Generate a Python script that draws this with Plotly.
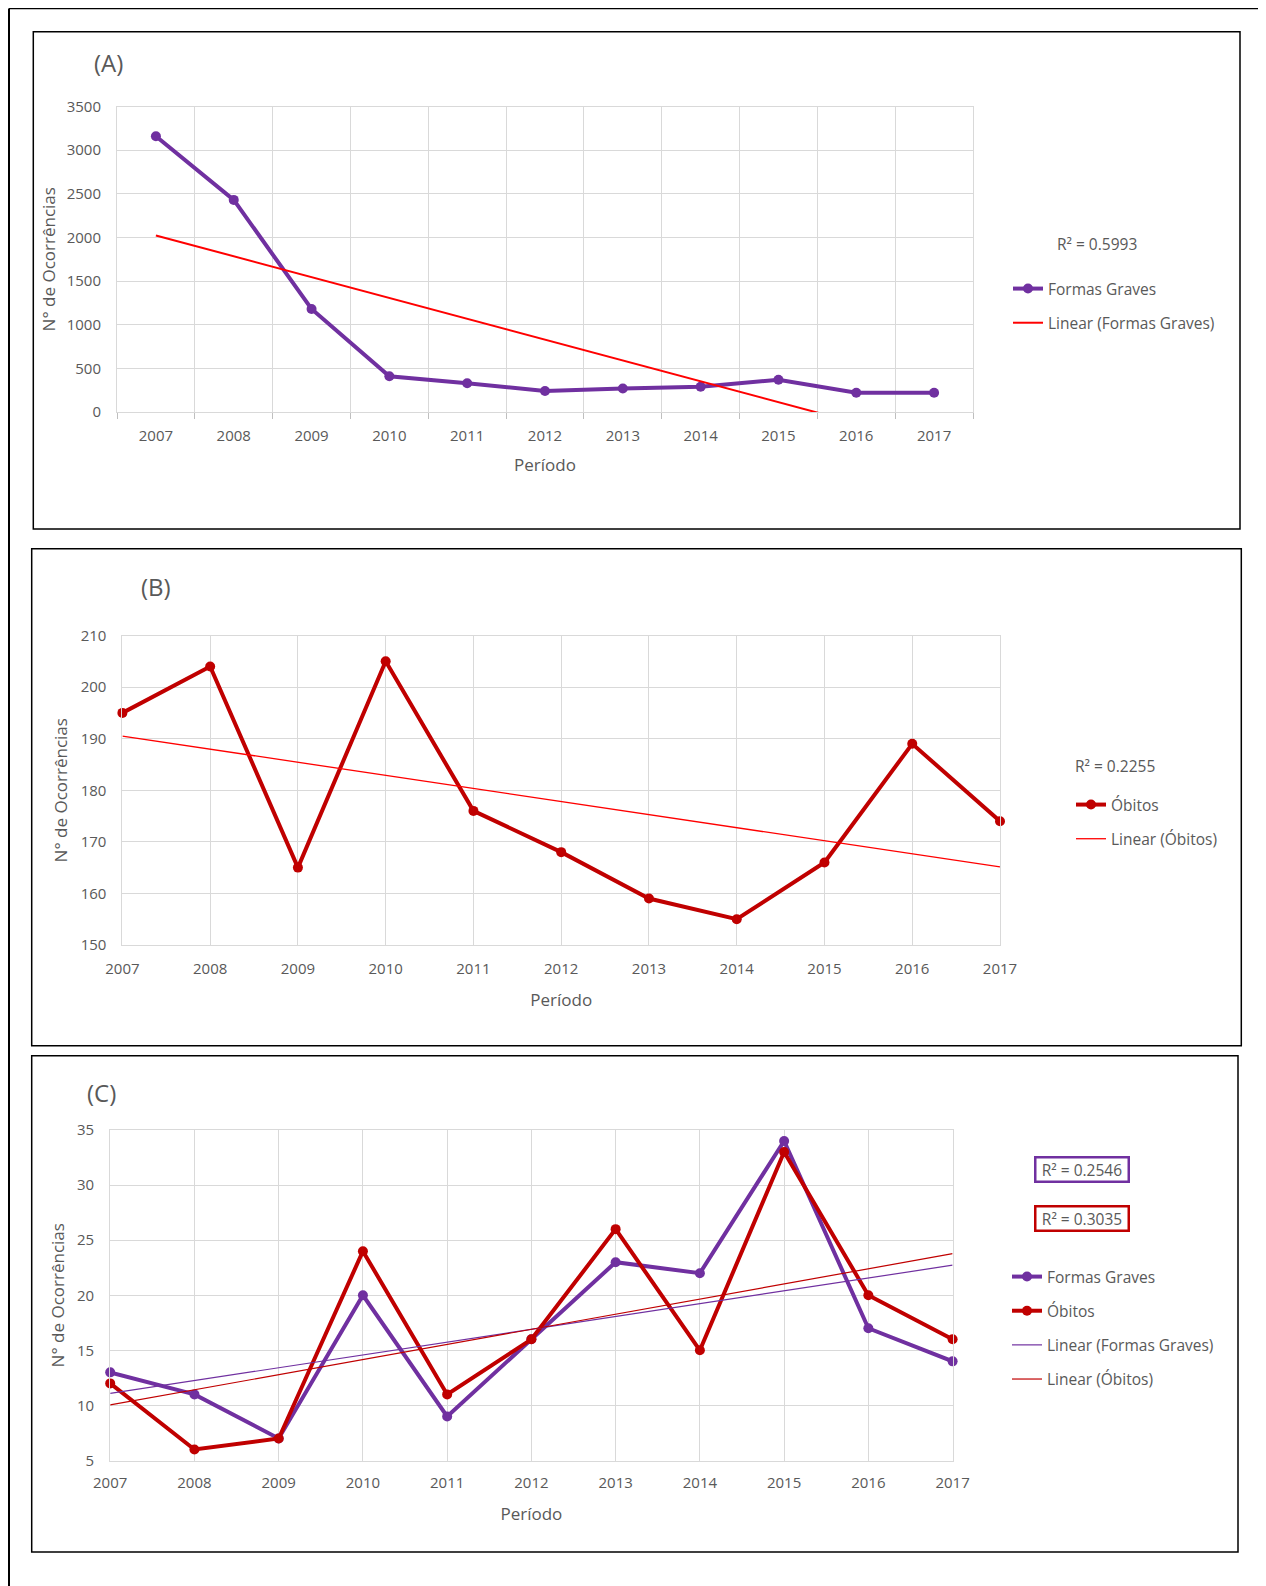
import numpy as np
import plotly.graph_objects as go

# ---------------- data ----------------
years = [2007, 2008, 2009, 2010, 2011, 2012, 2013, 2014, 2015, 2016, 2017]
year_labels = [str(y) for y in years]

formas_graves_A = [3160, 2430, 1180, 410, 330, 240, 270, 290, 370, 220, 220]
obitos_B = [195, 204, 165, 205, 176, 168, 159, 155, 166, 189, 174]
formas_graves_C = [13, 11, 7, 20, 9, 16, 23, 22, 34, 17, 14]
obitos_C = [12, 6, 7, 24, 11, 16, 26, 15, 33, 20, 16]

r2_A = "R² = 0.5993"
r2_B = "R² = 0.2255"
r2_C_fg = "R² = 0.2546"
r2_C_ob = "R² = 0.3035"

# ---------------- style ----------------
OFF = 8                      # page body margin
W, H = 1266 - OFF, 1586 - OFF
FONT = "Open Sans"
TXT = "#595959"
GRID = "#D9D9D9"
PURPLE = "#7030A0"
DARKRED = "#C00000"
RED = "#FF0000"


def px_x(v):
    return (v - OFF) / W


def px_y(v):
    return 1 - (v - OFF) / H


def trend(vals):
    idx = np.arange(len(vals))
    slope, intercept = np.polyfit(idx, np.array(vals, dtype=float), 1)
    return list(slope * idx + intercept)


fig = go.Figure()

# ---------- Panel A ----------
fig.add_trace(go.Scatter(
    x=year_labels, y=formas_graves_A, mode="lines+markers", name="Formas Graves",
    line=dict(color=PURPLE, width=4), marker=dict(size=10, color=PURPLE),
    xaxis="x", yaxis="y", legend="legend", legendgroup="a1", cliponaxis=False))
fig.add_trace(go.Scatter(
    x=year_labels, y=trend(formas_graves_A), mode="lines", name="Linear (Formas Graves)",
    line=dict(color=RED, width=2), xaxis="x", yaxis="y", legend="legend", legendgroup="a2"))

# ---------- Panel B ----------
fig.add_trace(go.Scatter(
    x=years, y=obitos_B, mode="lines+markers", name="Óbitos",
    line=dict(color=DARKRED, width=4), marker=dict(size=10, color=DARKRED),
    xaxis="x2", yaxis="y2", legend="legend2", legendgroup="b1", cliponaxis=False))
fig.add_trace(go.Scatter(
    x=years, y=trend(obitos_B), mode="lines", name="Linear (Óbitos)",
    line=dict(color=RED, width=1.3), xaxis="x2", yaxis="y2", legend="legend2", legendgroup="b2"))

# ---------- Panel C ----------
fig.add_trace(go.Scatter(
    x=years, y=formas_graves_C, mode="lines+markers", name="Formas Graves",
    line=dict(color=PURPLE, width=4), marker=dict(size=10, color=PURPLE),
    xaxis="x3", yaxis="y3", legend="legend3", legendgroup="c1", cliponaxis=False))
fig.add_trace(go.Scatter(
    x=years, y=obitos_C, mode="lines+markers", name="Óbitos",
    line=dict(color=DARKRED, width=4), marker=dict(size=10, color=DARKRED),
    xaxis="x3", yaxis="y3", legend="legend3", legendgroup="c2", cliponaxis=False))
fig.add_trace(go.Scatter(
    x=years, y=trend(formas_graves_C), mode="lines", name="Linear (Formas Graves)",
    line=dict(color=PURPLE, width=1.2), xaxis="x3", yaxis="y3", legend="legend3", legendgroup="c3"))
fig.add_trace(go.Scatter(
    x=years, y=trend(obitos_C), mode="lines", name="Linear (Óbitos)",
    line=dict(color=DARKRED, width=1.2), xaxis="x3", yaxis="y3", legend="legend3", legendgroup="c4"))

tickfont = dict(family=FONT, size=15, color=TXT)
titlefont = dict(family=FONT, size=17, color=TXT)

common_x = dict(showgrid=True, gridcolor=GRID, gridwidth=1, showline=True, linecolor=GRID,
                linewidth=1, mirror=True, tickfont=tickfont, zeroline=False, automargin=False)
common_y = dict(showgrid=True, gridcolor=GRID, gridwidth=1, showline=True, linecolor=GRID,
                linewidth=1, mirror=True, tickfont=tickfont, zeroline=False, automargin=False)

legend_common = dict(xanchor="left", yanchor="top", bgcolor="rgba(0,0,0,0)",
                     font=dict(family=FONT, size=15.5, color=TXT),
                     tracegroupgap=11, traceorder="grouped", borderwidth=0)

fig.update_layout(
    width=W, height=H,
    margin=dict(l=0, r=0, t=0, b=0, autoexpand=False),
    paper_bgcolor="white", plot_bgcolor="white",
    font=dict(family=FONT, color=TXT),
    showlegend=True,
    # Panel A axes
    xaxis=dict(domain=[px_x(117), px_x(973)], anchor="y", type="category",
               range=[-0.5, len(years) - 0.5],
               tickson="boundaries", ticks="outside", ticklen=6, tickcolor="#BFBFBF",
               ticklabelstandoff=10,
               title=dict(text="Período", font=titlefont, standoff=15), **common_x),
    yaxis=dict(domain=[px_y(412), px_y(106.5)], anchor="x", range=[0, 3500], dtick=500,
               ticklabelstandoff=12,
               title=dict(text="N° de Ocorrências", font=titlefont, standoff=6), **common_y),
    # Panel B axes
    xaxis2=dict(domain=[px_x(122.4), px_x(1000)], anchor="y2", range=[2007, 2017], dtick=1,
                tick0=2007, ticklabelstandoff=10,
                title=dict(text="Período", font=titlefont, standoff=17), **common_x),
    yaxis2=dict(domain=[px_y(945), px_y(635.5)], anchor="x2", range=[150, 210], dtick=10,
                ticklabelstandoff=12,
                title=dict(text="N° de Ocorrências", font=titlefont, standoff=8), **common_y),
    # Panel C axes
    xaxis3=dict(domain=[px_x(110.2), px_x(952.6)], anchor="y3", range=[2007, 2017], dtick=1,
                tick0=2007, ticklabelstandoff=8,
                title=dict(text="Período", font=titlefont, standoff=17), **common_x),
    yaxis3=dict(domain=[px_y(1460.5), px_y(1130)], anchor="x3", range=[5, 35], dtick=5,
                ticklabelstandoff=12,
                title=dict(text="N° de Ocorrências", font=titlefont, standoff=8), **common_y),
    legend=dict(x=px_x(1008), y=px_y(272), **legend_common),
    legend2=dict(x=px_x(1071), y=px_y(788), **legend_common),
    legend3=dict(x=px_x(1007), y=px_y(1260), **legend_common),
)

# panel labels and R² annotations
ann = [
    dict(text="(A)", x=px_x(108), y=px_y(63), size=24),
    dict(text="(B)", x=px_x(155.7), y=px_y(586.5), size=24),
    dict(text="(C)", x=px_x(101), y=px_y(1092), size=24),
    dict(text=r2_A, x=px_x(1097), y=px_y(243.7), size=15.5),
    dict(text=r2_B, x=px_x(1115), y=px_y(765.5), size=15.5),
]
for a in ann:
    fig.add_annotation(text=a["text"], x=a["x"], y=a["y"], xref="paper", yref="paper",
                       showarrow=False, xanchor="center", yanchor="middle",
                       font=dict(family=FONT, size=a["size"], color=TXT))

for txt, yc, col in [(r2_C_fg, 1169.4, PURPLE), (r2_C_ob, 1218, DARKRED)]:
    fig.add_annotation(text=txt, x=px_x(1081.5), y=px_y(yc), xref="paper", yref="paper",
                       showarrow=False, xanchor="center", yanchor="middle",
                       font=dict(family=FONT, size=15.5, color=TXT),
                       width=88, height=19, align="center", valign="middle",
                       bordercolor=col, borderwidth=2.5, borderpad=1.5, bgcolor="white")

# frames
shapes = []
shapes.append(dict(type="line", x0=px_x(9), x1=px_x(9), y0=px_y(8.5), y1=px_y(1586),
                   line=dict(color="black", width=2)))
shapes.append(dict(type="line", x0=px_x(9), x1=px_x(1263), y0=px_y(8.5), y1=px_y(8.5),
                   line=dict(color="black", width=1.5)))
shapes.append(dict(type="line", x0=px_x(1263), x1=px_x(1263), y0=px_y(8.5), y1=px_y(1586),
                   line=dict(color="#555555", width=2.5)))
for (x0, y0, x1, y1) in [(33.3, 31.7, 1240, 529), (31.7, 548.7, 1241.3, 1045.7),
                         (31.7, 1055.7, 1238, 1552)]:
    shapes.append(dict(type="rect", x0=px_x(x0), x1=px_x(x1), y0=px_y(y1), y1=px_y(y0),
                       line=dict(color="black", width=1.5),
                       fillcolor="rgba(0,0,0,0)", layer="below"))
for s in shapes:
    s.setdefault("xref", "paper")
    s.setdefault("yref", "paper")
fig.update_layout(shapes=shapes)

fig.write_html("out.html")
